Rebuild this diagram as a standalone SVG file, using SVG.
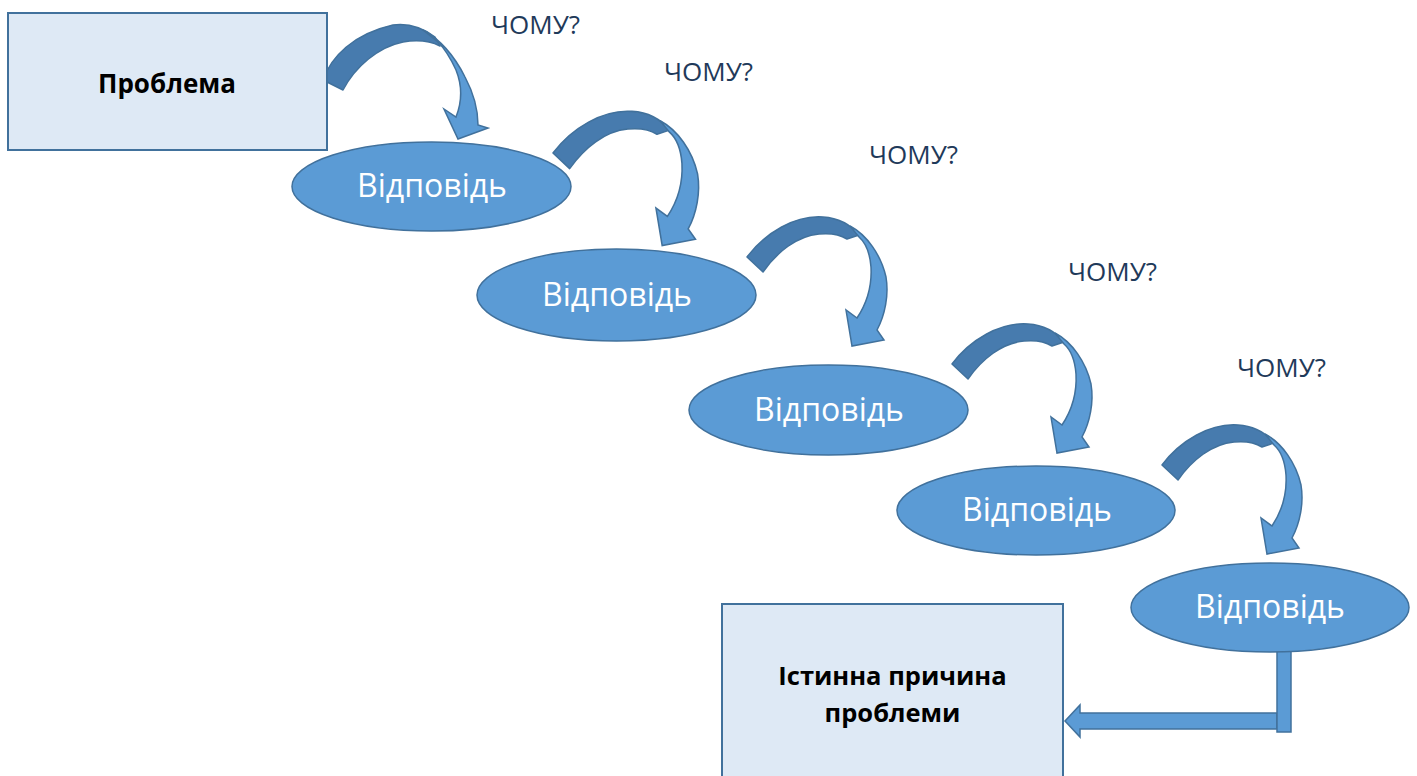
<svg xmlns="http://www.w3.org/2000/svg" xmlns:xlink="http://www.w3.org/1999/xlink" width="1417" height="776" viewBox="0 0 1417 776">
<style>
.box{fill:#dee9f5;stroke:#41719c;stroke-width:2}
.ell{fill:#5b9bd5;stroke:#41719c;stroke-width:1.5}
.dark{fill:#477bae;stroke:#41719c;stroke-width:1.5;stroke-linejoin:round}
.light{fill:#5b9bd5;stroke:#41719c;stroke-width:1.5;stroke-linejoin:miter}
.bt{font-family:"Open Sans","Liberation Sans",Arial,sans-serif;font-weight:bold;font-size:26px;fill:#000;text-anchor:middle}
.bt2{font-size:25.5px}
.et{font-family:"Open Sans","Liberation Sans",Arial,sans-serif;font-size:32px;fill:#fff;text-anchor:middle}
.q{font-family:"Open Sans","Liberation Sans",Arial,sans-serif;font-size:26px;fill:#1f3a5a}
</style>
<defs>
<g id="curv">
<path class="dark" d="M0,0 C18,-24 48,-42 76,-40 C92,-39 104,-32 112,-22 L100,-18 C92,-23 82,-24 72,-23 C50,-21 30,-5 16,15 Z"/>
<path class="light" d="M103,-31 C120,-22 134,-2 139,20 C142,38 138,58 130,73 L137,83 L105,89 L99,53 L110,61 C120,46 125,28 124,10 C123,-3 120,-13 112,-20 Z"/>
</g>
</defs>
<g id="connectors">
<g id="arrow1" transform="translate(323,82)">
<path class="dark" d="M0,-2 C8,-25 30,-48 70,-57 C85,-59 100,-54 112,-45 L117,-36 C105,-42 92,-42 80,-40 C55,-35 32,-15 20,8 Z"/>
<path class="light" d="M100,-52 C118,-42 132,-25 142,-5 C150,10 155,28 155,43 L165,46 L135,57 L121,27 L133,35 C139,20 139,3 133,-12 C127,-25 122,-33 115,-40 Z"/>
</g>
<use id="arrow2" xlink:href="#curv" transform="translate(553,153) scale(1.04)"/>
<use id="arrow3" xlink:href="#curv" transform="translate(747,257)"/>
<use id="arrow4" xlink:href="#curv" transform="translate(952,364)"/>
<use id="arrow5" xlink:href="#curv" transform="translate(1162,465)"/>
<g id="arrow6">
<path class="light" d="M1277,713 L1080,713 L1080,705 L1065,721 L1080,737 L1080,729 L1277,729 Z"/>
<rect class="light" x="1277" y="650" width="14" height="82"/>
</g>
</g>
<g id="problem">
<rect class="box" x="8" y="13" width="319" height="137"/>
<text class="bt" x="167" y="93">Проблема</text>
</g>
<g id="q1"><text class="q" x="491" y="34">ЧОМУ?</text></g>
<g id="q2"><text class="q" x="664" y="81">ЧОМУ?</text></g>
<g id="q3"><text class="q" x="869" y="164">ЧОМУ?</text></g>
<g id="q4"><text class="q" x="1068" y="281">ЧОМУ?</text></g>
<g id="q5"><text class="q" x="1237" y="377">ЧОМУ?</text></g>
<g id="answer1">
<ellipse class="ell" cx="431.5" cy="186.5" rx="139.5" ry="44.5"/>
<text class="et" x="432" y="197">Відповідь</text>
</g>
<g id="answer2">
<ellipse class="ell" cx="616.5" cy="295" rx="139.5" ry="46"/>
<text class="et" x="617" y="306">Відповідь</text>
</g>
<g id="answer3">
<ellipse class="ell" cx="828.5" cy="410" rx="139.5" ry="45"/>
<text class="et" x="829" y="421">Відповідь</text>
</g>
<g id="answer4">
<ellipse class="ell" cx="1036" cy="510.5" rx="139" ry="44.5"/>
<text class="et" x="1037" y="521">Відповідь</text>
</g>
<g id="answer5">
<ellipse class="ell" cx="1270" cy="607.5" rx="139" ry="44.5"/>
<text class="et" x="1270" y="618">Відповідь</text>
</g>
<g id="root-cause">
<rect class="box" x="722" y="604" width="341" height="180"/>
<text class="bt bt2" x="892.5" y="685">Істинна причина</text>
<text class="bt bt2" x="892.5" y="722">проблеми</text>
</g>
</svg>
